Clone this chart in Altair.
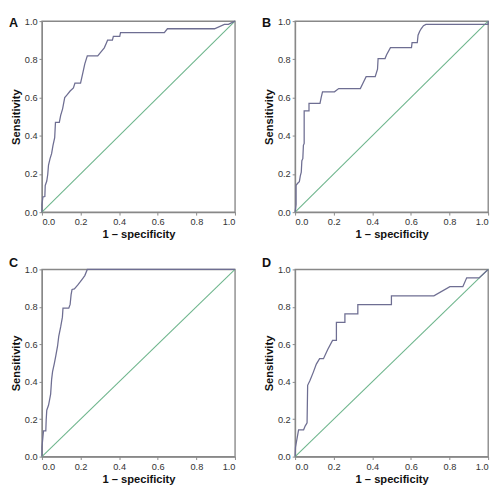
import altair as alt
import pandas as pd

# ROC curves (x = 1 - specificity, y = sensitivity)
A_x = [0, 0, 0.005, 0.015, 0.017, 0.025, 0.03, 0.034, 0.042, 0.05, 0.057, 0.066, 0.07, 0.09, 0.097, 0.107,
       0.118, 0.129, 0.146, 0.163, 0.171, 0.2, 0.213, 0.222, 0.235, 0.289, 0.306, 0.323, 0.334, 0.34, 0.365,
       0.37, 0.403, 0.407, 0.634, 0.65, 0.894, 0.945, 0.966, 1.0]
A_y = [0, 0.04, 0.08, 0.082, 0.14, 0.163, 0.197, 0.247, 0.28, 0.306, 0.348, 0.39, 0.47, 0.47, 0.507, 0.541,
       0.6, 0.613, 0.634, 0.65, 0.676, 0.676, 0.734, 0.776, 0.818, 0.818, 0.839, 0.86, 0.886, 0.9, 0.9,
       0.92, 0.92, 0.94, 0.94, 0.96, 0.96, 0.983, 0.983, 1.0]

B_x = [0, 0.005, 0.005, 0.012, 0.022, 0.027, 0.032, 0.035, 0.04, 0.043, 0.047, 0.047, 0.072, 0.072, 0.129,
       0.135, 0.142, 0.204, 0.226, 0.338, 0.352, 0.368, 0.415, 0.427, 0.43, 0.466, 0.474, 0.494, 0.603,
       0.606, 0.633, 0.637, 0.645, 0.653, 0.665, 0.678, 1.0, 1.0]
B_y = [0, 0.04, 0.14, 0.15, 0.16, 0.19, 0.21, 0.27, 0.28, 0.35, 0.36, 0.53, 0.53, 0.57, 0.57,
       0.6, 0.63, 0.63, 0.647, 0.647, 0.676, 0.709, 0.709, 0.748, 0.804, 0.804, 0.824, 0.861, 0.861,
       0.887, 0.887, 0.926, 0.946, 0.96, 0.976, 0.983, 0.983, 1.0]

C_x = [0, 0, 0.008, 0.02, 0.022, 0.025, 0.034, 0.039, 0.045, 0.05, 0.055, 0.064, 0.072, 0.081, 0.087,
       0.097, 0.106, 0.109, 0.139, 0.146, 0.151, 0.156, 0.168, 0.185, 0.198, 0.21, 0.222, 0.235, 1.0]
C_y = [0, 0.05, 0.137, 0.137, 0.197, 0.248, 0.274, 0.3, 0.334, 0.411, 0.454, 0.497, 0.539, 0.591, 0.642,
       0.693, 0.745, 0.793, 0.793, 0.813, 0.865, 0.893, 0.896, 0.916, 0.933, 0.95, 0.967, 1.0, 1.0]

D_x = [0, 0.002, 0.018, 0.044, 0.052, 0.062, 0.065, 0.077, 0.094, 0.11, 0.127, 0.147, 0.169, 0.194, 0.214,
       0.214, 0.258, 0.258, 0.325, 0.325, 0.499, 0.499, 0.719, 0.802, 0.869, 0.889, 0.953, 1.0]
D_y = [0, 0.05, 0.143, 0.143, 0.163, 0.18, 0.381, 0.407, 0.45, 0.494, 0.523, 0.523, 0.572, 0.621, 0.621,
       0.717, 0.717, 0.763, 0.763, 0.812, 0.812, 0.859, 0.859, 0.908, 0.908, 0.955, 0.955, 1.0]

ticks = [0.0, 0.2, 0.4, 0.6, 0.8, 1.0]
CURVE = "#6e6e92"
DIAG = "#6db58c"


def panel(label, xs, ys, h, label_dy):
    df = pd.DataFrame({"x": xs, "y": ys, "i": list(range(len(xs)))})
    xenc = alt.X("x:Q", scale=alt.Scale(domain=[0, 1], nice=False, zero=False),
                 axis=alt.Axis(values=ticks, format=".1f", title="1 \u2013 specificity"))
    yenc = alt.Y("y:Q", scale=alt.Scale(domain=[0, 1], nice=False, zero=False),
                 axis=alt.Axis(values=ticks, format=".1f", title="Sensitivity"))
    diag = alt.Chart(pd.DataFrame({"x": [0, 1], "y": [0, 1]})).mark_line(
        color=DIAG, strokeWidth=1.1).encode(x=xenc, y=yenc)
    curve = alt.Chart(df).mark_line(color=CURVE, strokeWidth=1.3).encode(
        x=xenc, y=yenc, order="i:Q")
    lab = alt.Chart(pd.DataFrame({"t": [label]})).mark_text(
        align="left", baseline="top", fontSize=13, fontWeight="bold",
        font="Liberation Sans", color="#111").encode(
        text="t:N", x=alt.value(-34), y=alt.value(label_dy))
    return alt.layer(diag, curve, lab).properties(width=199, height=h)


top = alt.hconcat(panel("A", A_x, A_y, 197, -4), panel("B", B_x, B_y, 197, -4), spacing=23)
bottom = alt.hconcat(panel("C", C_x, C_y, 193, -13), panel("D", D_x, D_y, 193, -13), spacing=23)

chart = alt.vconcat(top, bottom, spacing=15).properties(padding=0).configure_view(
    stroke="#888888", strokeWidth=1.4
).configure_axis(
    grid=False, domainColor="#888888", domainWidth=1.2, tickColor="#888888", tickSize=3,
    labelFont="Liberation Sans", labelFontSize=9.5, labelColor="#333333", labelPadding=2,
    titleFont="Liberation Sans", titleFontSize=11.5, titleFontWeight="bold", titleColor="#111111",
    titlePadding=3,
)

chart.save("out.html", embed_options={"renderer": "svg", "actions": False})
